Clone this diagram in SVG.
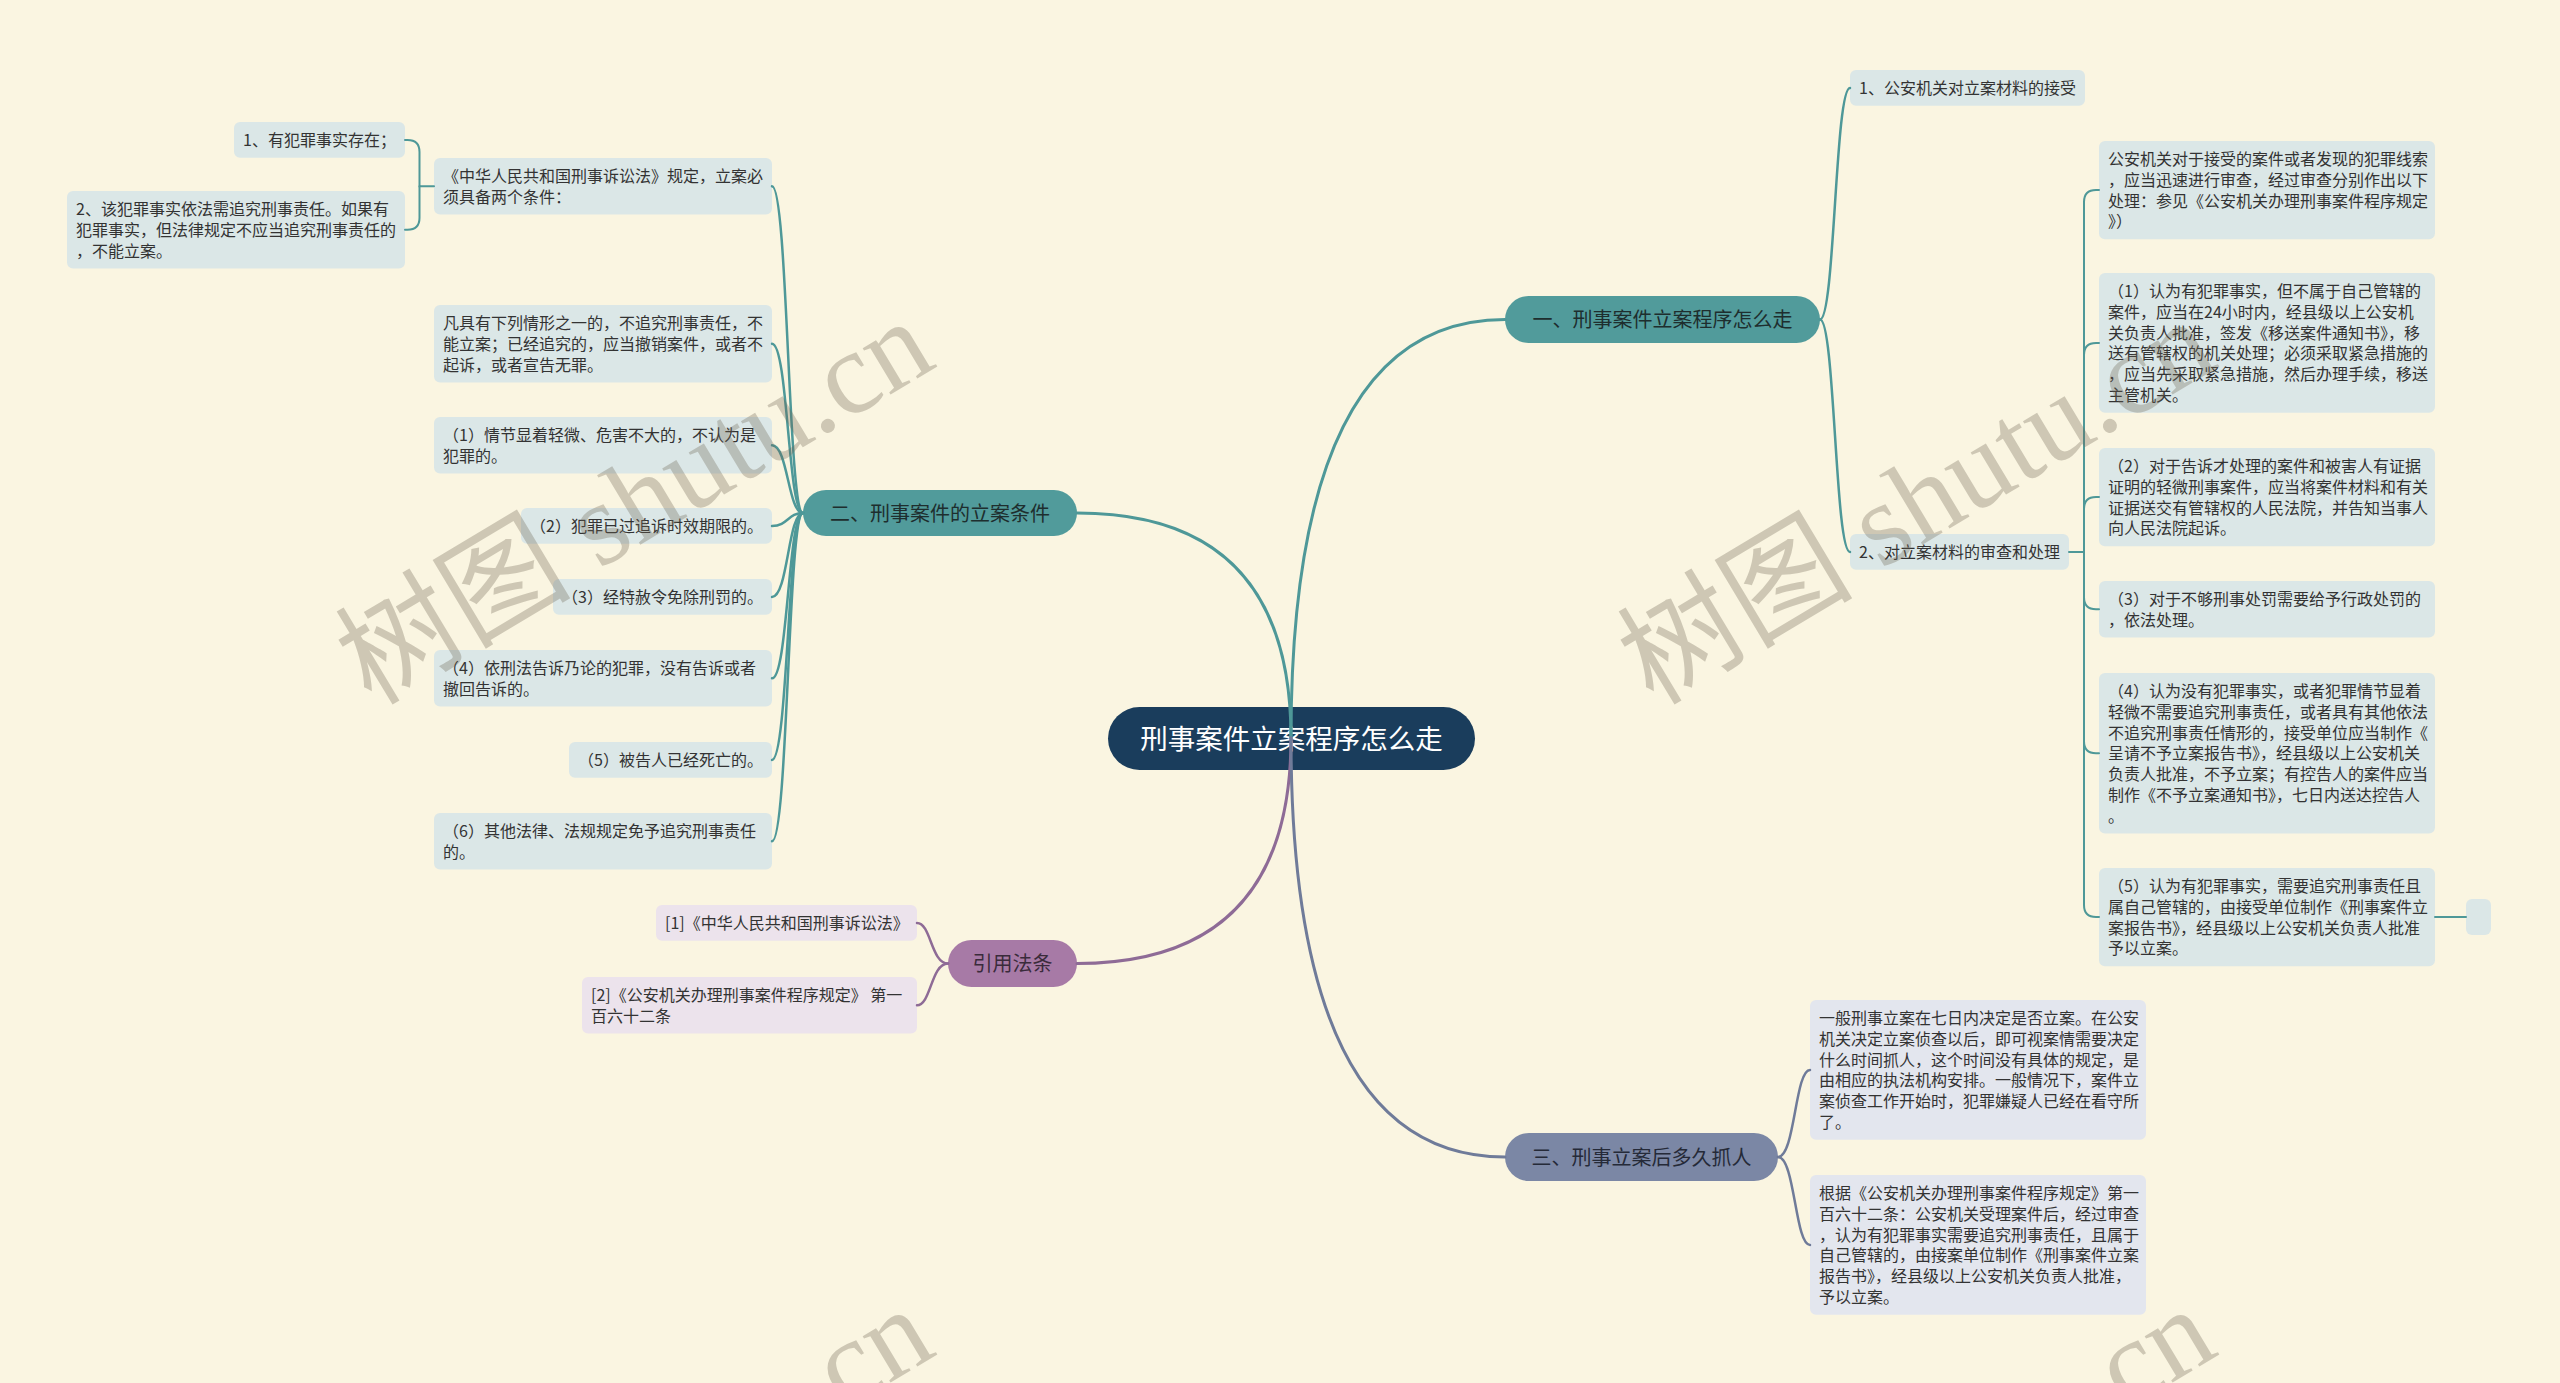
<svg xmlns="http://www.w3.org/2000/svg" width="2560" height="1383" viewBox="0 0 2560 1383">
<style>
.t{font-family:'Noto Sans CJK SC','Noto Sans',sans-serif;font-size:16px;fill:#333333}
.bt{font-family:'Noto Sans CJK SC','Noto Sans',sans-serif;font-size:20px;text-anchor:middle}
.lt{fill:#dbe7e7}
.ls{fill:#e3e6ee}
.lp{fill:#ece3ec}
.c{fill:none;stroke-linecap:round}
.ct{stroke:#4e9898}
.cs{stroke:#6f7b99}
.cp{stroke:#8e6b96}
.wm{font-family:'Liberation Serif','Noto Sans CJK SC',serif;font-size:118px;fill:#6e6452;opacity:.31;text-anchor:middle}
</style>
<rect x="0" y="0" width="2560" height="1383" fill="#faf5e1"/>

<g id="root">
<rect x="1108" y="707" width="367" height="63" rx="31.5" fill="#1a3d5c"/>
<text x="1291.5" y="749" font-family="'Noto Sans CJK SC',sans-serif" font-size="27.5" fill="#ffffff" text-anchor="middle">刑事案件立案程序怎么走</text>
</g>

<g id="branch1">
<rect x="1505" y="296" width="315" height="47" rx="23.5" fill="#519b9b"/>
<text class="bt" x="1662.5" y="327" fill="#1e2e2e">一、刑事案件立案程序怎么走</text>
</g>
<g id="branch2">
<rect x="803" y="490" width="274" height="46" rx="23" fill="#519b9b"/>
<text class="bt" x="940" y="520.6" fill="#1e2e2e">二、刑事案件的立案条件</text>
</g>
<g id="branch3">
<rect x="1505" y="1133" width="273" height="48" rx="24" fill="#7b87a5"/>
<text class="bt" x="1641.5" y="1164.6" fill="#252a38">三、刑事立案后多久抓人</text>
</g>
<g id="branch4">
<rect x="948" y="940" width="129" height="47" rx="23.5" fill="#a77aa6"/>
<text class="bt" x="1012.5" y="971" fill="#3a2b3b">引用法条</text>
</g>

<g id="nA">
<rect class="lt" x="434" y="158" width="338" height="56.6" rx="6"/>
<text class="t" x="443" y="181.9">《中华人民共和国刑事诉讼法》规定，立案必<tspan x="443" dy="20.8">须具备两个条件：</tspan></text>
</g>
<g id="nA1">
<rect class="lt" x="234" y="122" width="171" height="35.8" rx="6"/>
<text class="t" x="243" y="145.9">1、有犯罪事实存在；</text>
</g>
<g id="nA2">
<rect class="lt" x="67" y="191" width="338" height="77.4" rx="6"/>
<text class="t" x="76" y="214.9">2、该犯罪事实依法需追究刑事责任。如果有<tspan x="76" dy="20.8">犯罪事实，但法律规定不应当追究刑事责任的</tspan><tspan x="76" dy="20.8">，不能立案。</tspan></text>
</g>
<g id="nB">
<rect class="lt" x="434" y="305" width="338" height="77.4" rx="6"/>
<text class="t" x="443" y="328.9">凡具有下列情形之一的，不追究刑事责任，不<tspan x="443" dy="20.8">能立案；已经追究的，应当撤销案件，或者不</tspan><tspan x="443" dy="20.8">起诉，或者宣告无罪。</tspan></text>
</g>
<g id="nC">
<rect class="lt" x="434" y="417" width="338" height="56.6" rx="6"/>
<text class="t" x="443" y="440.9">（1）情节显着轻微、危害不大的，不认为是<tspan x="443" dy="20.8">犯罪的。</tspan></text>
</g>
<g id="nD">
<rect class="lt" x="521" y="508" width="251" height="35.8" rx="6"/>
<text class="t" x="530" y="531.9">（2）犯罪已过追诉时效期限的。</text>
</g>
<g id="nE">
<rect class="lt" x="553" y="579" width="219" height="35.8" rx="6"/>
<text class="t" x="562" y="602.9">（3）经特赦令免除刑罚的。</text>
</g>
<g id="nF">
<rect class="lt" x="434" y="650" width="338" height="56.6" rx="6"/>
<text class="t" x="443" y="673.9">（4）依刑法告诉乃论的犯罪，没有告诉或者<tspan x="443" dy="20.8">撤回告诉的。</tspan></text>
</g>
<g id="nG">
<rect class="lt" x="569" y="742" width="203" height="35.8" rx="6"/>
<text class="t" x="578" y="765.9">（5）被告人已经死亡的。</text>
</g>
<g id="nH">
<rect class="lt" x="434" y="813" width="338" height="56.6" rx="6"/>
<text class="t" x="443" y="836.9">（6）其他法律、法规规定免予追究刑事责任<tspan x="443" dy="20.8">的。</tspan></text>
</g>

<g id="nT">
<rect class="lp" x="656" y="905" width="261" height="35.8" rx="6"/>
<text class="t" x="665" y="928.9">[1]《中华人民共和国刑事诉讼法》</text>
</g>
<g id="nU">
<rect class="lp" x="582" y="977" width="335" height="56.6" rx="6"/>
<text class="t" x="591" y="1000.9">[2]《公安机关办理刑事案件程序规定》 第一<tspan x="591" dy="20.8">百六十二条</tspan></text>
</g>

<g id="nI">
<rect class="lt" x="1850" y="70" width="235" height="35.8" rx="6"/>
<text class="t" x="1859" y="93.9">1、公安机关对立案材料的接受</text>
</g>
<g id="nJ">
<rect class="lt" x="1850" y="534" width="219" height="35.8" rx="6"/>
<text class="t" x="1859" y="557.9">2、对立案材料的审查和处理</text>
</g>
<g id="nK">
<rect class="lt" x="2099" y="141" width="336" height="98.2" rx="6"/>
<text class="t" x="2108" y="164.9">公安机关对于接受的案件或者发现的犯罪线索<tspan x="2108" dy="20.8">，应当迅速进行审查，经过审查分别作出以下</tspan><tspan x="2108" dy="20.8">处理：参见《公安机关办理刑事案件程序规定</tspan><tspan x="2108" dy="20.8">》）</tspan></text>
</g>
<g id="nL">
<rect class="lt" x="2099" y="273" width="336" height="139.8" rx="6"/>
<text class="t" x="2108" y="296.9">（1）认为有犯罪事实，但不属于自己管辖的<tspan x="2108" dy="20.8">案件，应当在24小时内，经县级以上公安机</tspan><tspan x="2108" dy="20.8">关负责人批准，签发《移送案件通知书》，移</tspan><tspan x="2108" dy="20.8">送有管辖权的机关处理；必须采取紧急措施的</tspan><tspan x="2108" dy="20.8">，应当先采取紧急措施，然后办理手续，移送</tspan><tspan x="2108" dy="20.8">主管机关。</tspan></text>
</g>
<g id="nM">
<rect class="lt" x="2099" y="448" width="336" height="98.2" rx="6"/>
<text class="t" x="2108" y="471.9">（2）对于告诉才处理的案件和被害人有证据<tspan x="2108" dy="20.8">证明的轻微刑事案件，应当将案件材料和有关</tspan><tspan x="2108" dy="20.8">证据送交有管辖权的人民法院，并告知当事人</tspan><tspan x="2108" dy="20.8">向人民法院起诉。</tspan></text>
</g>
<g id="nN">
<rect class="lt" x="2099" y="581" width="336" height="56.6" rx="6"/>
<text class="t" x="2108" y="604.9">（3）对于不够刑事处罚需要给予行政处罚的<tspan x="2108" dy="20.8">，依法处理。</tspan></text>
</g>
<g id="nO">
<rect class="lt" x="2099" y="673" width="336" height="160.6" rx="6"/>
<text class="t" x="2108" y="696.9">（4）认为没有犯罪事实，或者犯罪情节显着<tspan x="2108" dy="20.8">轻微不需要追究刑事责任，或者具有其他依法</tspan><tspan x="2108" dy="20.8">不追究刑事责任情形的，接受单位应当制作《</tspan><tspan x="2108" dy="20.8">呈请不予立案报告书》，经县级以上公安机关</tspan><tspan x="2108" dy="20.8">负责人批准，不予立案；有控告人的案件应当</tspan><tspan x="2108" dy="20.8">制作《不予立案通知书》，七日内送达控告人</tspan><tspan x="2108" dy="20.8">。</tspan></text>
</g>
<g id="nP">
<rect class="lt" x="2099" y="868" width="336" height="98.2" rx="6"/>
<text class="t" x="2108" y="891.9">（5）认为有犯罪事实，需要追究刑事责任且<tspan x="2108" dy="20.8">属自己管辖的，由接受单位制作《刑事案件立</tspan><tspan x="2108" dy="20.8">案报告书》，经县级以上公安机关负责人批准</tspan><tspan x="2108" dy="20.8">予以立案。</tspan></text>
</g>
<g id="nQ">
<rect class="lt" x="2466" y="899" width="25" height="36" rx="6"/>
</g>

<g id="nR">
<rect class="ls" x="1810" y="1000" width="336" height="139.8" rx="6"/>
<text class="t" x="1819" y="1023.9">一般刑事立案在七日内决定是否立案。在公安<tspan x="1819" dy="20.8">机关决定立案侦查以后，即可视案情需要决定</tspan><tspan x="1819" dy="20.8">什么时间抓人，这个时间没有具体的规定，是</tspan><tspan x="1819" dy="20.8">由相应的执法机构安排。一般情况下，案件立</tspan><tspan x="1819" dy="20.8">案侦查工作开始时，犯罪嫌疑人已经在看守所</tspan><tspan x="1819" dy="20.8">了。</tspan></text>
</g>
<g id="nS">
<rect class="ls" x="1810" y="1175" width="336" height="139.8" rx="6"/>
<text class="t" x="1819" y="1198.9">根据《公安机关办理刑事案件程序规定》第一<tspan x="1819" dy="20.8">百六十二条：公安机关受理案件后，经过审查</tspan><tspan x="1819" dy="20.8">，认为有犯罪事实需要追究刑事责任，且属于</tspan><tspan x="1819" dy="20.8">自己管辖的，由接案单位制作《刑事案件立案</tspan><tspan x="1819" dy="20.8">报告书》，经县级以上公安机关负责人批准，</tspan><tspan x="1819" dy="20.8">予以立案。</tspan></text>
</g>

<g id="connectors">
<g class="c" stroke-width="3">
<path class="ct" d="M1291 738 Q1291 319.5 1505 319.5"/>
<path class="ct" d="M1291 738 Q1291 513 1077 513"/>
<path class="cp" d="M1291 738 Q1291 963.5 1077 963.5"/>
<path class="cs" d="M1291 738 Q1291 1157 1505 1157"/>
</g>
<g class="c" stroke-width="2.5">
<path class="ct" d="M1820 319.5 C1835 319.5 1835 87.9 1850 87.9"/>
<path class="ct" d="M1820 319.5 C1835 319.5 1835 551.9 1850 551.9"/>
<path class="ct" d="M803 513 C788 513 788 186.3 772 186.3"/>
<path class="ct" d="M803 513 C788 513 788 343.7 772 343.7"/>
<path class="ct" d="M803 513 C788 513 788 445.3 772 445.3"/>
<path class="ct" d="M803 513 C788 513 788 525.9 772 525.9"/>
<path class="ct" d="M803 513 C788 513 788 596.9 772 596.9"/>
<path class="ct" d="M803 513 C788 513 788 678.3 772 678.3"/>
<path class="ct" d="M803 513 C788 513 788 759.9 772 759.9"/>
<path class="ct" d="M803 513 C788 513 788 841.3 772 841.3"/>
<path class="cs" d="M1778 1157 C1795 1157 1795 1069.9 1810 1069.9"/>
<path class="cs" d="M1778 1157 C1795 1157 1795 1244.9 1810 1244.9"/>
<path class="cp" d="M948 963.5 C931 963.5 931 922.9 917 922.9"/>
<path class="cp" d="M948 963.5 C931 963.5 931 1005.3 917 1005.3"/>
</g>
<g class="c ct" stroke-width="2">
<path d="M434 186.3 H419.5 V151.9 Q419.5 139.9 407.5 139.9 H405"/>
<path d="M419.5 186.3 V217.7 Q419.5 229.7 407.5 229.7 H405"/>
<path d="M2069 551.9 H2084 V202.1 Q2084 190.1 2096 190.1 H2099"/>
<path d="M2084 551.9 V354.9 Q2084 342.9 2096 342.9 H2099"/>
<path d="M2084 551.9 V509.1 Q2084 497.1 2096 497.1 H2099"/>
<path d="M2084 551.9 V597.3 Q2084 609.3 2096 609.3 H2099"/>
<path d="M2084 551.9 V741.3 Q2084 753.3 2096 753.3 H2099"/>
<path d="M2084 551.9 V905.1 Q2084 917.1 2096 917.1 H2099"/>
<path d="M2435 917.1 H2466"/>
</g>
</g>

<g id="watermark">
<text class="wm" transform="translate(655 536) rotate(-31)">树图 shutu.cn</text>
<text class="wm" transform="translate(1937 536) rotate(-31)">树图 shutu.cn</text>
<text class="wm" transform="translate(655 1524) rotate(-31)">树图 shutu.cn</text>
<text class="wm" transform="translate(1937 1524) rotate(-31)">树图 shutu.cn</text>
</g>
</svg>
